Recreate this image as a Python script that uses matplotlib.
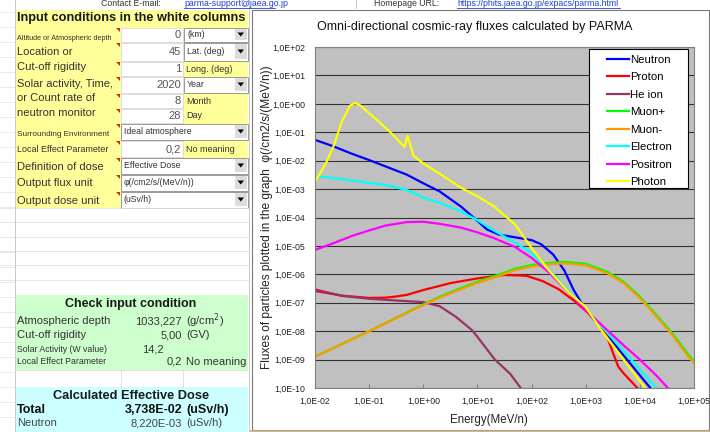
import matplotlib
matplotlib.use('Agg')
import matplotlib.pyplot as plt
from matplotlib.patches import Rectangle, Polygon

plt.rcParams['font.family'] = ['Liberation Sans', 'DejaVu Sans']

# energies in MeV/n, fluxes in /cm2/s/(MeV/n)
neutron_e = [0.01, 0.02, 0.05, 0.1, 0.2, 0.5, 1, 2, 3, 5, 10, 15, 25, 50, 100, 150, 250, 400, 600, 1000, 2000, 5000, 1e4, 1.6e4]
neutron_f = [5.4e-2, 3.4e-2, 1.7e-2, 1.05e-2, 6.3e-3, 3.2e-3, 1.6e-3, 8.3e-4, 4.8e-4, 2.4e-4, 7.6e-5, 3.8e-5, 2.5e-5, 2.0e-5,
             1.6e-5, 1.15e-5, 5.0e-6, 1.4e-6, 2.8e-7, 5.6e-8, 1.2e-8, 1.4e-9, 2.8e-10, 9.5e-11]

proton_e = [0.01, 0.0316, 0.1, 0.2, 0.316, 0.5, 1, 3.16, 10, 31.6, 80, 160, 316, 630, 1000, 1800, 2500, 3200, 4000, 5000, 9000]
proton_f = [2.6e-7, 1.78e-7, 1.48e-7, 1.51e-7, 1.66e-7, 1.9e-7, 2.8e-7, 4.9e-7, 7.2e-7, 9.5e-7, 8.9e-7, 5.8e-7, 3.0e-7,
            1.12e-7, 5.2e-8, 1.9e-8, 6.3e-9, 1.7e-9, 5.6e-10, 3.3e-10, 1.0e-10]

he_e = [0.01, 0.0316, 0.1, 0.316, 1, 2, 4, 8, 10, 21, 40, 63]
he_f = [2.95e-7, 1.74e-7, 1.38e-7, 1.2e-7, 1.05e-7, 7.6e-8, 3.2e-8, 1.07e-8, 6.3e-9, 1.0e-9, 3.2e-10, 1.0e-10]

muon_e = [0.01, 0.0316, 0.1, 1, 2, 5, 10, 20, 50, 100, 200, 400, 1000, 2500, 5000, 1e4, 2e4, 4e4, 8e4, 1e5]
muon_plus_f = [1.26e-9, 3.55e-9, 1.0e-8, 8.7e-8, 1.62e-7, 3.3e-7, 5.5e-7, 8.5e-7, 1.58e-6, 2.14e-6, 2.5e-6, 2.75e-6,
               2.35e-6, 1.23e-6, 5.5e-7, 1.62e-7, 3.8e-8, 8.3e-9, 1.41e-9, 8.9e-10]
muon_minus_f = [1.26e-9, 3.55e-9, 1.0e-8, 8.3e-8, 1.51e-7, 3.0e-7, 5.0e-7, 7.6e-7, 1.41e-6, 1.9e-6, 2.24e-6, 2.45e-6,
                2.09e-6, 1.1e-6, 4.9e-7, 1.45e-7, 3.4e-8, 7.2e-9, 1.2e-9, 7.6e-10]

electron_e = [0.01, 0.02, 0.05, 0.1, 0.2, 0.5, 1, 2, 5, 10, 20, 50, 100, 200, 500, 1000, 2000, 5000, 1e4, 2e4]
electron_f = [2.8e-3, 2.5e-3, 2.0e-3, 1.66e-3, 1.4e-3, 9.3e-4, 5.0e-4, 3.3e-4, 1.6e-4, 8.0e-5, 3.5e-5, 1.3e-5, 5.6e-6,
              1.6e-6, 2.5e-7, 6.3e-8, 1.4e-8, 2.1e-9, 4.4e-10, 1.0e-10]

positron_e = [0.01, 0.02, 0.05, 0.1, 0.2, 0.5, 1, 2, 5, 10, 20, 50, 100, 200, 500, 1000, 2000, 5000, 1e4, 2e4, 3.3e4]
positron_f = [7.2e-6, 1.17e-5, 2.3e-5, 3.5e-5, 5.2e-5, 6.9e-5, 7.1e-5, 6.0e-5, 4.4e-5, 3.0e-5, 1.9e-5, 9.1e-6, 3.8e-6,
              1.26e-6, 2.2e-7, 5.4e-8, 1.6e-8, 3.2e-9, 1.0e-9, 2.8e-10, 1.0e-10]

photon_e = [0.01, 0.0158, 0.0224, 0.0316, 0.045, 0.055, 0.068, 0.1, 0.158, 0.28, 0.45, 0.511, 0.66, 1, 2, 5, 10, 20,
            50, 100, 200, 500, 1000, 2000, 5000, 1.25e4]
photon_f = [1.8e-3, 7.9e-3, 3.5e-2, 0.25, 0.89, 1.07, 0.89, 0.47, 0.22, 7.9e-2, 3.0e-2, 7.6e-2, 1.5e-2, 8.0e-3, 3.5e-3,
            1.1e-3, 5.6e-4, 2.5e-4, 5.6e-5, 8.5e-6, 1.5e-6, 2.2e-7, 7.1e-8, 1.0e-8, 1.0e-9, 1.0e-10]

series = [
    ("Neutron", neutron_e, neutron_f, "#0000FF"),
    ("Proton", proton_e, proton_f, "#FF0000"),
    ("He ion", he_e, he_f, "#993366"),
    ("Muon+", muon_e, muon_plus_f, "#00FF00"),
    ("Muon-", muon_e, muon_minus_f, "#FF9900"),
    ("Electron", electron_e, electron_f, "#00FFFF"),
    ("Positron", positron_e, positron_f, "#FF00FF"),
    ("Photon", photon_e, photon_f, "#FFFF00"),
]

x_ticks = [1e-2, 1e-1, 1e0, 1e1, 1e2, 1e3, 1e4, 1e5]
x_ticklabels = ["1,0E-02", "1,0E-01", "1,0E+00", "1,0E+01", "1,0E+02", "1,0E+03", "1,0E+04", "1,0E+05"]
y_ticks = [1e2, 1e1, 1e0, 1e-1, 1e-2, 1e-3, 1e-4, 1e-5, 1e-6, 1e-7, 1e-8, 1e-9, 1e-10]
y_ticklabels = ["1,0E+02", "1,0E+01", "1,0E+00", "1,0E-01", "1,0E-02", "1,0E-03", "1,0E-04", "1,0E-05",
                "1,0E-06", "1,0E-07", "1,0E-08", "1,0E-09", "1,0E-10"]

# left side of the sheet: (top, bottom, label, label size, label y, value, unit, unit kind)
input_rows = [
    (27, 42, "Altitude or Atmospheric depth", 5.2, 38, "0", "(km)", "combo"),
    (42, 61, "Location or", 8, 52, "45", "Lat. (deg)", "combo"),
    (61, 76, "Cut-off rigidity", 8, 67, "1", "Long. (deg)", "text"),
    (76, 93, "Solar activity, Time,", 8, 84, "2020", "Year", "combo"),
    (93, 108, "or Count rate of", 8, 98, "8", "Month", "text"),
    (108, 123, "neutron monitor", 8, 113, "28", "Day", "text"),
    (123, 140, "Surrounding Environment", 5.9, 135, None, "Ideal atmosphere", "wide"),
    (140, 157, "Local Effect Parameter", 6.5, 150, "0,2", "No meaning", "text"),
    (157, 174, "Definition of dose", 8, 167, None, "Effective Dose", "wide"),
    (174, 191, "Output flux unit", 8, 183, None, "φ(/cm2/s/(MeV/n))", "wide"),
    (191, 208, "Output dose unit", 8, 201, None, "(uSv/h)", "wide"),
]
check_rows = [
    ("Atmospheric depth", 8, 321, "1033,227", "(g/cm$^2$)"),
    ("Cut-off rigidity", 8, 335, "5,00", "(GV)"),
    ("Solar Activity (W value)", 6.3, 349, "14,2", ""),
    ("Local Effect Parameter", 6.3, 362, "0,2", "No meaning"),
]

fig = plt.figure(figsize=(7.1, 4.32), dpi=100)
bg = fig.add_axes([0, 0, 1, 1], zorder=0)
bg.set_xlim(0, 710)
bg.set_ylim(432, 0)
bg.axis('off')


def box(x0, y0, x1, y1, fc, ec='none', lw=0.6):
    bg.add_patch(Rectangle((x0, y0), x1 - x0, y1 - y0, fc=fc, ec=ec, lw=lw))


def put(x, y, s, size=8, ha='left', color='#222222', weight='normal'):
    bg.text(x, y, s, fontsize=size, ha=ha, va='center', color=color, weight=weight)


def combo(x0, y0, x1, y1, s, size=6.3):
    box(x0, y0, x1, y1, 'white', '#8a8a8a')
    box(x1 - 13, y0 + 1.5, x1 - 1.5, y1 - 1.5, '#dcdcdc')
    ym = (y0 + y1) / 2
    bg.add_patch(Polygon([(x1 - 10.5, ym - 2), (x1 - 4, ym - 2), (x1 - 7.25, ym + 2)], closed=True, fc='black'))
    put(x0 + 3, ym, s, size, color='#333333')


# spreadsheet background lines
for yy in [207.5, 222, 237, 251, 265, 280]:
    bg.plot([0, 249], [yy, yy], color='#e2e2e2', lw=0.6)
for yy in range(12, 432, 15):
    bg.plot([0, 15], [yy, yy], color='#e6e6e6', lw=0.6)
bg.plot([15, 15], [0, 432], color='#c8c8c8', lw=0.7)
bg.plot([249, 249], [0, 432], color='#c8c8c8', lw=0.7)
bg.plot([356, 356], [0, 8], color='#c8c8c8', lw=0.7)

# top row (links)
put(101, 4, "Contact E-mail:", 6.3, color='#333333')
put(184, 4, "parma-support@jaea.go.jp", 6.3, color='#1f3fd0')
bg.plot([184, 275], [8, 8], color='#1f3fd0', lw=0.6)
put(374, 4, "Homepage URL:", 6.3, color='#333333')
put(457, 4, "https://phits.jaea.go.jp/expacs/parma.html", 6.3, color='#1f3fd0')
bg.plot([457, 620], [8, 8], color='#1f3fd0', lw=0.6)

# input block
box(15, 10, 248, 208, '#FFFF99')
put(17, 18, "Input conditions in the white columns", 9.2, weight='bold', color='#1a1a1a')
for y0, y1, lab, lsize, ly, val, unit, kind in input_rows:
    put(17, ly, lab, lsize, color='#333333')
    bg.add_patch(Polygon([(116, y0 + 0.5), (120, y0 + 0.5), (120, y0 + 4.5)], closed=True, fc='#e02020'))
    if kind == 'wide':
        combo(121, y0 + 0.5, 248, y1 - 0.5, unit)
        continue
    box(121, y0 + 0.5, 183, y1 - 0.5, 'white', '#d8d8d8')
    put(181, (y0 + y1) / 2 + 0.5, val, 8, ha='right', color='#555555')
    if kind == 'combo':
        combo(184, y0 + 0.5, 248, y1 - 0.5, unit)
    else:
        put(186, (y0 + y1) / 2 + 0.5, unit, 6.5, color='#333333')

# check block
box(15, 295, 248, 370, '#CCFFCC')
put(131, 304, "Check input condition", 9, ha='center', weight='bold', color='#1a1a1a')
for lab, lsize, ly, val, unit in check_rows:
    put(17, ly, lab, lsize, color='#333333')
    put(182 if unit else 164, ly, val, 8, ha='right', color='#333333')
    if unit:
        put(186, ly, unit, 8, color='#333333')
bg.plot([121, 121], [370, 387], color='#dcdcdc', lw=0.6)
bg.plot([183, 183], [370, 387], color='#dcdcdc', lw=0.6)
bg.plot([15, 249], [370, 370], color='#dcdcdc', lw=0.6)

# dose block
box(15, 387, 248, 432, '#CCFFFF')
put(131, 396, "Calculated Effective Dose", 9.2, ha='center', weight='bold', color='#1a1a1a')
put(17, 410, "Total", 9, weight='bold', color='#111111')
put(182, 410, "3,738E-02", 9, ha='right', weight='bold', color='#111111')
put(186, 410, "(uSv/h)", 9, weight='bold', color='#111111')
put(17, 423, "Neutron", 8, color='#444444')
put(182, 423, "8,220E-03", 8, ha='right', color='#444444')
put(186, 423, "(uSv/h)", 8, color='#444444')

# chart area
box(251.5, 9.5, 708.5, 430, 'white', '#7a7a7a', 0.8)
bg.plot([251, 710], [431.3, 431.3], color='#c8a882', lw=1.2)
put(475, 27, "Omni-directional cosmic-ray fluxes calculated by PARMA", 9, ha='center', color='#111111')

ax = fig.add_axes([315 / 710, 1 - 388 / 432, 379 / 710, 341 / 432], zorder=2)
ax.set_facecolor('#C0C0C0')
for name, e, f, c in series:
    ax.plot(e, f, color=c, lw=1.6, label=name, solid_joinstyle='round')
ax.set_xscale('log')
ax.set_yscale('log')
ax.set_xlim(1e-2, 1e5)
ax.set_ylim(1e-10, 1e2)
ax.set_xticks(x_ticks)
ax.set_xticklabels(x_ticklabels, fontsize=6.3, color='#222222')
ax.set_yticks(y_ticks)
ax.set_yticklabels(y_ticklabels, fontsize=6.3, color='#222222')
ax.xaxis.set_minor_locator(plt.NullLocator())
ax.yaxis.set_minor_locator(plt.NullLocator())
ax.tick_params(axis='x', direction='in', length=3, color='#808080', pad=6)
ax.tick_params(axis='y', length=0, pad=7)
ax.grid(axis='y', color='#333333', lw=0.8)
ax.set_axisbelow(True)
for sp in ax.spines.values():
    sp.set_color('#808080')
    sp.set_linewidth(0.8)

ax.set_xlabel("Energy(MeV/n)", fontsize=8.3, color='#222222')
ax.xaxis.set_label_coords(0.459, -0.075)
ax.set_ylabel("Fluxes of particles plotted in the graph  φ(/cm2/s/(MeV/n))", fontsize=8.6, color='#222222')
ax.yaxis.set_label_coords(-0.111, 0.5)

ax.add_patch(Rectangle((0.723, 0.5865), 0.984 - 0.723, 0.994 - 0.5865, transform=ax.transAxes,
                       fc='white', ec='black', lw=0.8, zorder=4, clip_on=False))
leg = ax.legend(loc='upper left', bbox_to_anchor=(0.770, 0.977), frameon=False, fontsize=8.2,
                borderpad=0, borderaxespad=0, handlelength=1.95, handletextpad=0.1, labelspacing=0.66)
leg.set_zorder(5)

fig.savefig('out.png', dpi=100)
